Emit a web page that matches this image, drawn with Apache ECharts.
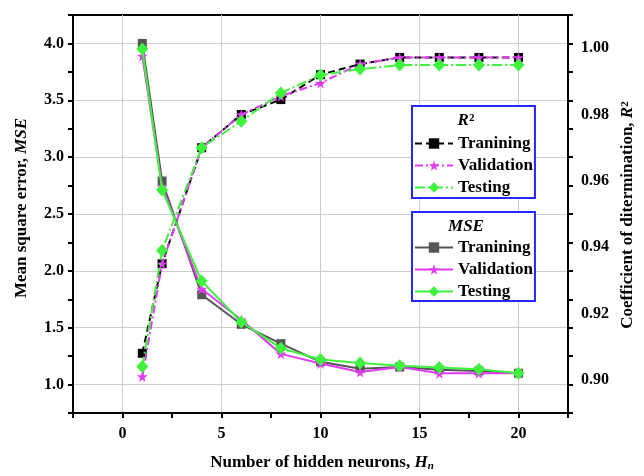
<!DOCTYPE html>
<html>
<head>
<meta charset="utf-8">
<script src="https://cdn.jsdelivr.net/npm/echarts@6/dist/echarts.min.js"></script>
<style>
  html, body { margin: 0; padding: 0; background: #fff; }
  #chart { width: 644px; height: 476px; }
</style>
</head>
<body>
<div id="chart"></div>
<script>
// Hidden neurons tested
const hiddenNeurons = [1, 2, 4, 6, 8, 10, 12, 14, 16, 18, 20];

// Mean square error per data split
const mseTraining   = [4.00, 2.79, 1.79, 1.53, 1.36, 1.20, 1.14, 1.155, 1.13, 1.12, 1.10];
const mseValidation = [3.89, 2.74, 1.84, 1.57, 1.27, 1.185, 1.11, 1.155, 1.10, 1.10, 1.10];
const mseTesting    = [3.95, 2.71, 1.91, 1.55, 1.32, 1.22, 1.19, 1.165, 1.15, 1.135, 1.10];

// Coefficient of determination per data split
const r2Training   = [0.908, 0.935, 0.970, 0.980, 0.9845, 0.992, 0.9952, 0.9972, 0.9972, 0.9972, 0.9972];
const r2Validation = [0.901, 0.935, 0.970, 0.980, 0.9855, 0.9895, 0.9952, 0.9972, 0.9972, 0.9972, 0.9972];
const r2Testing    = [0.904, 0.939, 0.970, 0.978, 0.9865, 0.9919, 0.9937, 0.9949, 0.9949, 0.9949, 0.9949];

// Labelled tick values (grid lines run through these)
const xLabelTicks = [0, 5, 10, 15, 20];
const mseLabelTicks = [1.0, 1.5, 2.0, 2.5, 3.0, 3.5, 4.0];
const r2LabelTicks = [0.90, 0.92, 0.94, 0.96, 0.98, 1.00];

const FONT = 'Liberation Serif';
const BLACK = '#000000';
const GRAY = '#555555';
const MAGENTA = '#e03cf2';
const GREEN = '#3ef23e';
const BLUE = '#2626ff';
const GRID_COLOR = '#cccccc';

const STAR = 'path://M50,0 L61,35 L98,35 L68,57 L79,91 L50,70 L21,91 L32,57 L2,35 L39,35 Z';

const pairs = (ys) => hiddenNeurons.map((x, i) => [x, ys[i]]);
const isLabelled = (list, v) => list.some(t => Math.abs(t - v) < 1e-6);

const labelStyle = { fontFamily: FONT, fontWeight: 'bold', color: BLACK, fontSize: 16 };
const frameLine = { show: true, onZero: false, lineStyle: { color: BLACK, width: 2 } };
const tickStyle = { show: true, inside: false, length: 5, lineStyle: { color: BLACK, width: 2 } };

// Axis that only contributes grid lines through the labelled values
function gridLineAxis(base, values) {
  return Object.assign({
    type: 'value', offset: 0,
    axisLine: { show: false, onZero: false },
    axisTick: { show: false, customValues: values },
    axisLabel: { show: false },
    splitLine: { show: true, lineStyle: { color: GRID_COLOR, width: 1 } },
    silent: true
  }, base);
}

const chart = echarts.init(document.getElementById('chart'), null, { renderer: 'canvas' });

const option = {
  animation: false,
  backgroundColor: '#ffffff',
  grid: {
    left: 73, right: 76, top: 15, bottom: 63,
    containLabel: false,
    outerBoundsMode: 'none',
    show: true,
    borderColor: BLACK,
    borderWidth: 2,
    backgroundColor: 'transparent'
  },
  xAxis: [
    {
      type: 'value', position: 'bottom', offset: 0, min: -2.5, max: 22.5, interval: 2.5, z: 5,
      axisLine: frameLine,
      axisTick: tickStyle,
      axisLabel: Object.assign({
        margin: 13, showMinLabel: true, showMaxLabel: true,
        formatter: v => (isLabelled(xLabelTicks, v) ? String(Math.round(v)) : '')
      }, labelStyle),
      splitLine: { show: false }
    },
    gridLineAxis({ position: 'bottom', min: -2.5, max: 22.5 }, xLabelTicks)
  ],
  yAxis: [
    {
      type: 'value', position: 'left', offset: 0, min: 0.75, max: 4.25, interval: 0.25, z: 5,
      axisLine: frameLine,
      axisTick: tickStyle,
      axisLabel: Object.assign({
        margin: 9,
        formatter: v => (isLabelled(mseLabelTicks, v) ? v.toFixed(1) : '')
      }, labelStyle),
      splitLine: { show: false }
    },
    {
      type: 'value', position: 'right', offset: 0, min: 0.89, max: 1.01, interval: 0.01, z: 5,
      axisLine: frameLine,
      axisTick: { show: false },
      axisLabel: Object.assign({
        margin: 13,
        formatter: v => (isLabelled(r2LabelTicks, v) ? v.toFixed(2) : '')
      }, labelStyle),
      splitLine: { show: false }
    },
    gridLineAxis({ position: 'left', min: 0.75, max: 4.25 }, mseLabelTicks),
    {
      // right-hand frame ticks follow the MSE scale
      type: 'value', position: 'right', offset: 0, min: 0.75, max: 4.25, interval: 0.25, z: 5,
      axisLine: frameLine,
      axisTick: tickStyle,
      axisLabel: { show: false },
      splitLine: { show: false },
      silent: true
    }
  ],
  legend: [
    {
      data: ['R2|Tranining', 'R2|Validation', 'R2|Testing'],
      orient: 'vertical', left: 412, top: 106,
      padding: [29, 2, 2, 2],
      itemWidth: 38, itemHeight: 13, itemGap: 5,
      backgroundColor: '#ffffff', borderColor: BLUE, borderWidth: 2, borderRadius: 0,
      selectedMode: false,
      formatter: n => n.split('|')[1],
      textStyle: { fontFamily: FONT, fontWeight: 'bold', fontSize: 17, color: BLACK }
    },
    {
      data: ['MSE|Tranining', 'MSE|Validation', 'MSE|Testing'],
      orient: 'vertical', left: 412, top: 212,
      padding: [27, 2, 1, 2],
      itemWidth: 38, itemHeight: 13, itemGap: 5,
      backgroundColor: '#ffffff', borderColor: BLUE, borderWidth: 2, borderRadius: 0,
      selectedMode: false,
      formatter: n => n.split('|')[1],
      textStyle: { fontFamily: FONT, fontWeight: 'bold', fontSize: 17, color: BLACK }
    }
  ],
  graphic: [
    {
      type: 'text', x: 22, y: 208, rotation: Math.PI / 2, z: 10,
      style: {
        text: '{b|Mean square error, }{i|MSE}',
        align: 'center', verticalAlign: 'middle',
        rich: {
          b: { fontFamily: FONT, fontWeight: 'bold', fontSize: 17, fill: BLACK },
          i: { fontFamily: FONT, fontWeight: 'bold', fontStyle: 'italic', fontSize: 17, fill: BLACK }
        }
      }
    },
    {
      type: 'text', x: 628, y: 215, rotation: Math.PI / 2, z: 10,
      style: {
        text: '{b|Coefficient of ditermination, }{i|R}{s|2}',
        align: 'center', verticalAlign: 'middle',
        rich: {
          b: { fontFamily: FONT, fontWeight: 'bold', fontSize: 17, fill: BLACK },
          i: { fontFamily: FONT, fontWeight: 'bold', fontStyle: 'italic', fontSize: 17, fill: BLACK },
          s: { fontFamily: FONT, fontWeight: 'bold', fontSize: 11, fill: BLACK, verticalAlign: 'top' }
        }
      }
    },
    {
      type: 'text', x: 322, y: 463, z: 10,
      style: {
        text: '{b|Number of hidden neurons, }{i|H}{s|n}',
        align: 'center', verticalAlign: 'middle',
        rich: {
          b: { fontFamily: FONT, fontWeight: 'bold', fontSize: 17, fill: BLACK },
          i: { fontFamily: FONT, fontWeight: 'bold', fontStyle: 'italic', fontSize: 17, fill: BLACK },
          s: { fontFamily: FONT, fontWeight: 'bold', fontStyle: 'italic', fontSize: 11, fill: BLACK, verticalAlign: 'bottom' }
        }
      }
    },
    {
      type: 'text', x: 466, y: 121, z: 10,
      style: {
        text: '{i|R}{s|2}',
        align: 'center', verticalAlign: 'middle',
        rich: {
          i: { fontFamily: FONT, fontWeight: 'bold', fontStyle: 'italic', fontSize: 17, fill: BLACK },
          s: { fontFamily: FONT, fontWeight: 'bold', fontSize: 11, fill: BLACK, verticalAlign: 'top' }
        }
      }
    },
    {
      type: 'text', x: 466, y: 227, z: 10,
      style: {
        text: 'MSE', align: 'center', verticalAlign: 'middle',
        fontFamily: FONT, fontWeight: 'bold', fontStyle: 'italic', fontSize: 17, fill: BLACK
      }
    }
  ],
  series: [
    {
      name: 'MSE|Tranining', type: 'line', xAxisIndex: 0, yAxisIndex: 0, data: pairs(mseTraining),
      symbol: 'rect', symbolSize: 9, z: 3,
      lineStyle: { color: GRAY, width: 2, type: 'solid' }, itemStyle: { color: GRAY }
    },
    {
      name: 'MSE|Validation', type: 'line', xAxisIndex: 0, yAxisIndex: 0, data: pairs(mseValidation),
      symbol: STAR, symbolSize: 11, z: 4,
      lineStyle: { color: MAGENTA, width: 2, type: 'solid' }, itemStyle: { color: MAGENTA }
    },
    {
      name: 'MSE|Testing', type: 'line', xAxisIndex: 0, yAxisIndex: 0, data: pairs(mseTesting),
      symbol: 'diamond', symbolSize: [12, 13], z: 5,
      lineStyle: { color: GREEN, width: 2, type: 'solid' }, itemStyle: { color: GREEN }
    },
    {
      name: 'R2|Tranining', type: 'line', xAxisIndex: 0, yAxisIndex: 1, data: pairs(r2Training),
      symbol: 'rect', symbolSize: 9, z: 3,
      lineStyle: { color: BLACK, width: 2, type: [7, 4] }, itemStyle: { color: BLACK }
    },
    {
      name: 'R2|Validation', type: 'line', xAxisIndex: 0, yAxisIndex: 1, data: pairs(r2Validation),
      symbol: STAR, symbolSize: 11, z: 4,
      lineStyle: { color: MAGENTA, width: 2, type: [8, 3, 2, 3] }, itemStyle: { color: MAGENTA }
    },
    {
      name: 'R2|Testing', type: 'line', xAxisIndex: 0, yAxisIndex: 1, data: pairs(r2Testing),
      symbol: 'diamond', symbolSize: [12, 13], z: 5,
      lineStyle: { color: GREEN, width: 2, type: [10, 3, 2, 3] }, itemStyle: { color: GREEN }
    }
  ]
};

chart.setOption(option);
</script>
</body>
</html>
